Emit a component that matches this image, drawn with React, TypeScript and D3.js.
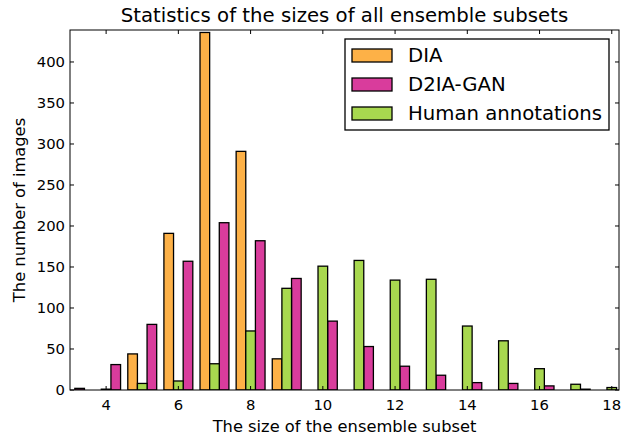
import React from 'react';
import * as d3 from 'd3';

// subset sizes (bin centres)
const sizes = [3, 4, 5, 6, 7, 8, 9, 10, 11, 12, 13, 14, 15, 16, 17, 18];

// counts per bin
const dia = [0, 0, 44, 191, 436, 291, 38, 0, 0, 0, 0, 0, 0, 0, 0, 0];
const d2iaGan = [2, 31, 80, 157, 204, 182, 136, 84, 53, 29, 18, 9, 8, 5, 1, 0];
const human = [0, 1, 8, 11, 32, 72, 124, 151, 158, 134, 135, 78, 60, 26, 7, 3];

const xTicks = [4, 6, 8, 10, 12, 14, 16, 18];
const yTicks = [0, 50, 100, 150, 200, 250, 300, 350, 400];

// bars are placed in this order inside each bin
const series = [
  { name: 'DIA', values: dia, color: '#fdb147', slot: 0 },
  { name: 'D2IA-GAN', values: d2iaGan, color: '#d93c9c', slot: 2 },
  { name: 'Human annotations', values: human, color: '#a8d84f', slot: 1 },
];

export default function App() {
  const width = 627;
  const height = 437;
  const margin = { top: 30, right: 8, bottom: 47, left: 70 };
  const innerW = width - margin.left - margin.right;
  const innerH = height - margin.top - margin.bottom;

  const x = d3.scaleLinear().domain([3, 18.2]).range([0, innerW]);
  const y = d3.scaleLinear().domain([0, 439]).range([innerH, 0]);

  const barW = 0.8 / 3;
  const font = 'DejaVu Sans, sans-serif';

  return (
    <svg
      width={width}
      height={height}
      style={{ position: 'absolute', left: 0, top: 0, background: '#fff' }}
      fontFamily={font}
    >
      <defs>
        <clipPath id="plot">
          <rect x={0} y={0} width={innerW} height={innerH} />
        </clipPath>
      </defs>
      <text x={margin.left + innerW / 2} y={22} textAnchor="middle" fontSize={19.7}>
        Statistics of the sizes of all ensemble subsets
      </text>
      <g transform={`translate(${margin.left},${margin.top})`}>
        <g clipPath="url(#plot)">
          {series.map((s) =>
            s.values.map((v, i) => {
              const x0 = sizes[i] - 0.5 + 0.1 + s.slot * barW;
              return (
                <rect
                  key={s.name + i}
                  x={x(x0)}
                  y={y(v)}
                  width={x(x0 + barW) - x(x0)}
                  height={y(0) - y(v)}
                  fill={s.color}
                  stroke="#000"
                  strokeWidth={1.3}
                />
              );
            })
          )}
        </g>
        {/* ticks, inward on all sides */}
        {xTicks.map((t) => (
          <g key={'x' + t}>
            <line x1={x(t)} x2={x(t)} y1={innerH} y2={innerH - 4} stroke="#000" />
            <line x1={x(t)} x2={x(t)} y1={0} y2={4} stroke="#000" />
            <text x={x(t)} y={innerH + 20} textAnchor="middle" fontSize={14.8}>
              {t}
            </text>
          </g>
        ))}
        {yTicks.map((t) => (
          <g key={'y' + t}>
            <line x1={0} x2={4} y1={y(t)} y2={y(t)} stroke="#000" />
            <line x1={innerW} x2={innerW - 4} y1={y(t)} y2={y(t)} stroke="#000" />
            <text x={-5} y={y(t)} dy="0.35em" textAnchor="end" fontSize={14.8}>
              {t}
            </text>
          </g>
        ))}
        <rect x={0} y={0} width={innerW} height={innerH} fill="none" stroke="#000" strokeWidth={1} />
        <text x={innerW / 2} y={innerH + 42} textAnchor="middle" fontSize={16.3}>
          The size of the ensemble subset
        </text>
        <text
          transform={`translate(${-45},${innerH / 2}) rotate(-90)`}
          textAnchor="middle"
          fontSize={16.3}
        >
          The number of images
        </text>
        {/* legend */}
        <g transform="translate(275,9)">
          <rect x={0} y={0} width={264} height={91} fill="#fff" stroke="#000" strokeWidth={1.3} />
          {series.map((s, i) => (
            <g key={s.name} transform={`translate(0,${16 + i * 29})`}>
              <rect x={7} y={-6} width={40} height={13} fill={s.color} stroke="#000" strokeWidth={1.3} />
              <text x={63} y={0} dy="0.35em" fontSize={19.7}>
                {s.name}
              </text>
            </g>
          ))}
        </g>
      </g>
    </svg>
  );
}
